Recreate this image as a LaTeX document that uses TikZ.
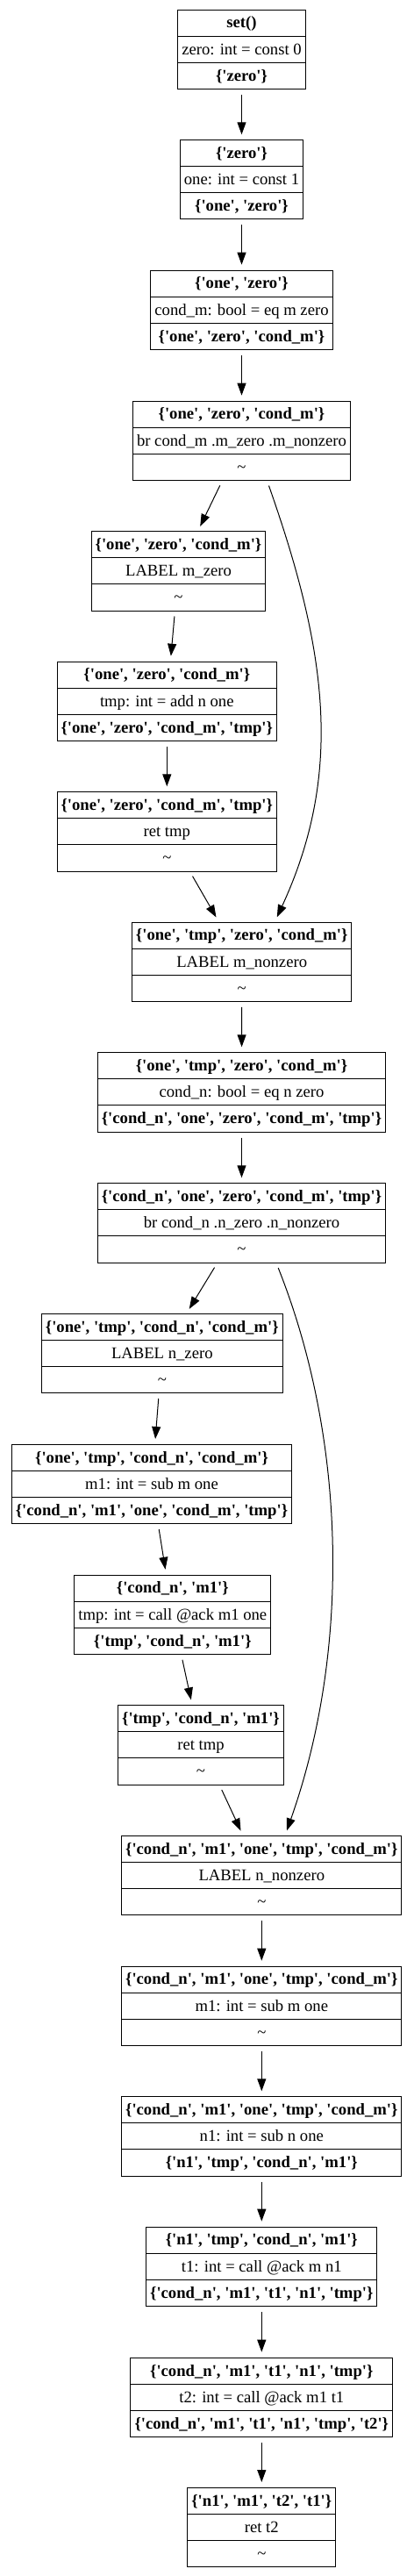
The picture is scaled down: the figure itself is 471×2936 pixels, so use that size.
\documentclass[tikz,border=0pt]{standalone}
\usepackage{fontspec}
\setmainfont{Liberation Serif}[Ligatures=TeXOff]
\usetikzlibrary{shapes.multipart,arrows.meta,calc}
\newcommand{\rw}{\rule[-6.6pt]{0pt}{21.8pt}}

\begin{document}
\begin{tikzpicture}[x=0.75pt,y=-0.75pt,
  blk/.style={draw,line width=0.75pt,rectangle split,rectangle split parts=3,
    inner xsep=3.4pt,inner ysep=0pt,anchor=north,font=\fontsize{14}{17}\selectfont},
  edge/.style={-{Triangle[length=10.5pt,width=7.5pt]},line width=0.75pt,
    shorten <=4.5pt,shorten >=4.5pt}]
\useasboundingbox (0,0) rectangle (471,2936);

\node[blk] (set) at (275.5,10.7) {\rw\textbf{set()}\nodepart{two}\rw zero: int = const 0\nodepart{three}\rw\textbf{\{'zero'\}}};
\node[blk] (one) at (275.5,159.3) {\rw\textbf{\{'zero'\}}\nodepart{two}\rw one: int = const 1\nodepart{three}\rw\textbf{\{'one', 'zero'\}}};
\node[blk] (condm) at (275.5,307.7) {\rw\textbf{\{'one', 'zero'\}}\nodepart{two}\rw cond\_m: bool = eq m zero\nodepart{three}\rw\textbf{\{'one', 'zero', 'cond\_m'\}}};
\node[blk] (brm) at (275.5,456.7) {\rw\textbf{\{'one', 'zero', 'cond\_m'\}}\nodepart{two}\rw br cond\_m .m\_zero .m\_nonzero\nodepart{three}\rw\textasciitilde};
\node[blk] (mzero) at (203.5,605.3) {\rw\textbf{\{'one', 'zero', 'cond\_m'\}}\nodepart{two}\rw LABEL m\_zero\nodepart{three}\rw\textasciitilde};
\node[blk] (tmpm) at (190.3,753.7) {\rw\textbf{\{'one', 'zero', 'cond\_m'\}}\nodepart{two}\rw tmp: int = add n one\nodepart{three}\rw\textbf{\{'one', 'zero', 'cond\_m', 'tmp'\}}};
\node[blk] (retm) at (190.3,902.3) {\rw\textbf{\{'one', 'zero', 'cond\_m', 'tmp'\}}\nodepart{two}\rw ret tmp\nodepart{three}\rw\textasciitilde};
\node[blk] (mnz) at (275.7,1050.7) {\rw\textbf{\{'one', 'tmp', 'zero', 'cond\_m'\}}\nodepart{two}\rw LABEL m\_nonzero\nodepart{three}\rw\textasciitilde};
\node[blk] (condn) at (275.5,1199.3) {\rw\textbf{\{'one', 'tmp', 'zero', 'cond\_m'\}}\nodepart{two}\rw cond\_n: bool = eq n zero\nodepart{three}\rw\textbf{\{'cond\_n', 'one', 'zero', 'cond\_m', 'tmp'\}}};
\node[blk] (brn) at (275.5,1348.3) {\rw\textbf{\{'cond\_n', 'one', 'zero', 'cond\_m', 'tmp'\}}\nodepart{two}\rw br cond\_n .n\_zero .n\_nonzero\nodepart{three}\rw\textasciitilde};
\node[blk] (nzero) at (184.8,1497) {\rw\textbf{\{'one', 'tmp', 'cond\_n', 'cond\_m'\}}\nodepart{two}\rw LABEL n\_zero\nodepart{three}\rw\textasciitilde};
\node[blk] (subm) at (173,1646) {\rw\textbf{\{'one', 'tmp', 'cond\_n', 'cond\_m'\}}\nodepart{two}\rw m1: int = sub m one\nodepart{three}\rw\textbf{\{'cond\_n', 'm1', 'one', 'cond\_m', 'tmp'\}}};
\node[blk] (ackA) at (196.8,1794.7) {\rw\textbf{\{'cond\_n', 'm1'\}}\nodepart{two}\rw tmp: int = call @ack m1 one\nodepart{three}\rw\textbf{\{'tmp', 'cond\_n', 'm1'\}}};
\node[blk] (retn) at (229,1943.3) {\rw\textbf{\{'tmp', 'cond\_n', 'm1'\}}\nodepart{two}\rw ret tmp\nodepart{three}\rw\textasciitilde};
\node[blk] (nnz) at (298.3,2092) {\rw\textbf{\{'cond\_n', 'm1', 'one', 'tmp', 'cond\_m'\}}\nodepart{two}\rw LABEL n\_nonzero\nodepart{three}\rw\textasciitilde};
\node[blk] (submB) at (298.3,2240.7) {\rw\textbf{\{'cond\_n', 'm1', 'one', 'tmp', 'cond\_m'\}}\nodepart{two}\rw m1: int = sub m one\nodepart{three}\rw\textasciitilde};
\node[blk] (subn) at (298.3,2389.3) {\rw\textbf{\{'cond\_n', 'm1', 'one', 'tmp', 'cond\_m'\}}\nodepart{two}\rw n1: int = sub n one\nodepart{three}\rw\textbf{\{'n1', 'tmp', 'cond\_n', 'm1'\}}};
\node[blk] (ackB) at (298.3,2537.7) {\rw\textbf{\{'n1', 'tmp', 'cond\_n', 'm1'\}}\nodepart{two}\rw t1: int = call @ack m n1\nodepart{three}\rw\textbf{\{'cond\_n', 'm1', 't1', 'n1', 'tmp'\}}};
\node[blk] (ackC) at (298.3,2686.7) {\rw\textbf{\{'cond\_n', 'm1', 't1', 'n1', 'tmp'\}}\nodepart{two}\rw t2: int = call @ack m1 t1\nodepart{three}\rw\textbf{\{'cond\_n', 'm1', 't1', 'n1', 'tmp', 't2'\}}};
\node[blk] (ret) at (298.3,2835) {\rw\textbf{\{'n1', 'm1', 't2', 't1'\}}\nodepart{two}\rw ret t2\nodepart{three}\rw\textasciitilde};

\foreach \a/\b in {set/one,one/condm,condm/brm,brm/mzero,mzero/tmpm,tmpm/retm,retm/mnz,
  mnz/condn,condn/brn,brn/nzero,nzero/subm,subm/ackA,ackA/retn,retn/nnz,
  nnz/submB,submB/subn,subn/ackB,ackB/ackC,ackC/ret}
  \draw[edge] (\a) -- (\b);

\draw[edge] ($(brm.south)+(29,0)$) .. controls +(68,193) and +(79,-171) .. ($(mnz.north)+(37.6,0)$);
\draw[edge] ($(brn.south)+(39.5,0)$) .. controls +(80,201) and +(75,-212) .. ($(nnz.north)+(26.7,0)$);

\end{tikzpicture}
\end{document}
